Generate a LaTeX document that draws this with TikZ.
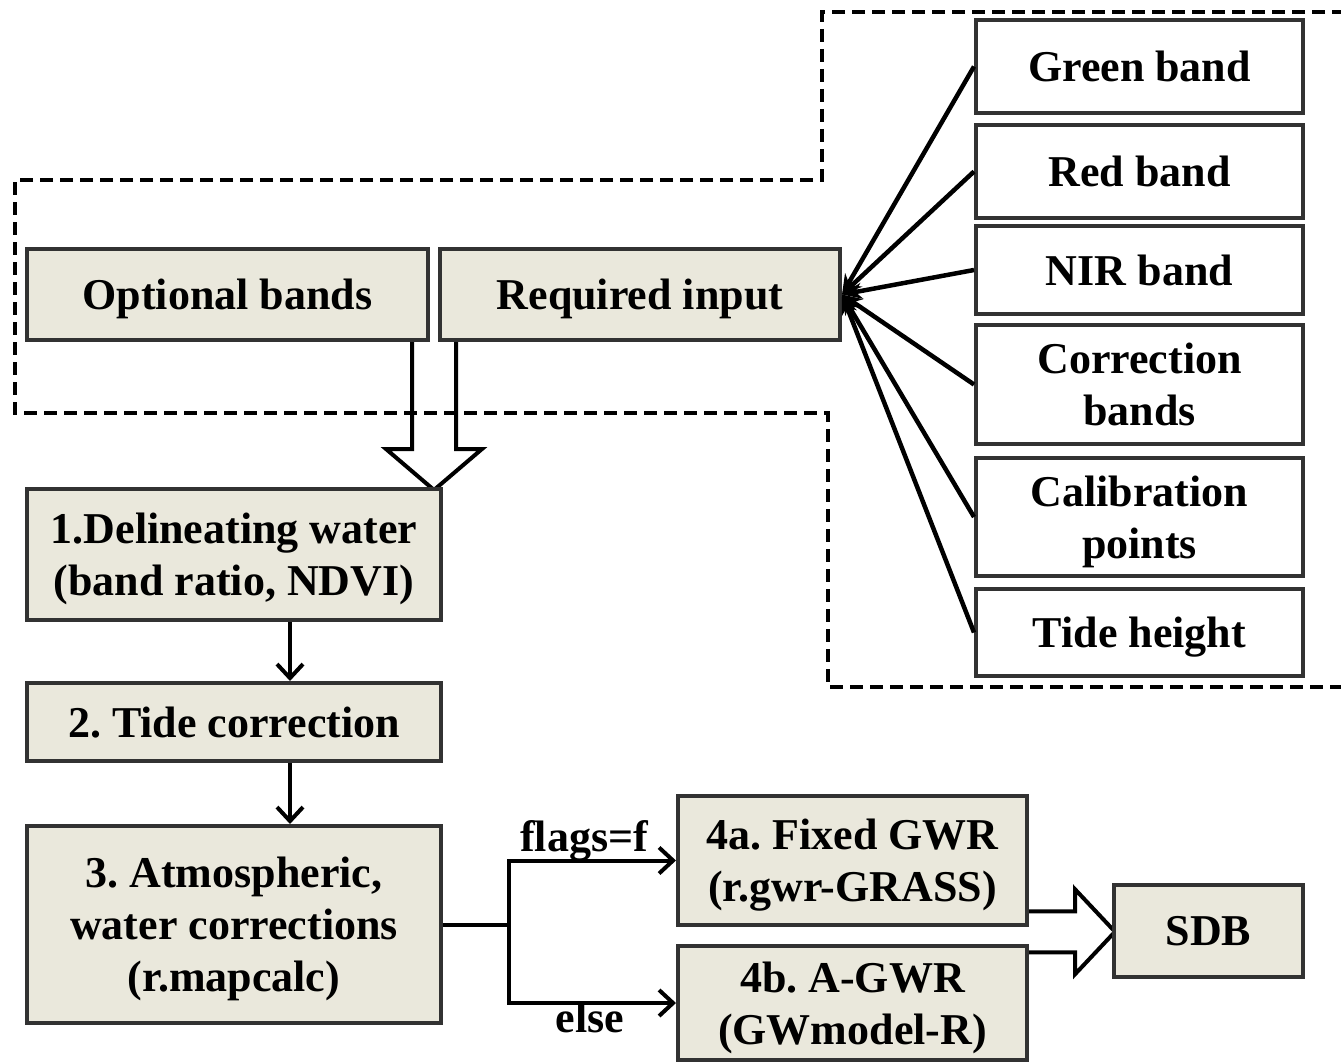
\documentclass[tikz,border=0pt]{standalone}
\usepackage{fontspec}
\setmainfont{Liberation Serif}
\usetikzlibrary{arrows.meta,calc,backgrounds}
\definecolor{boxfill}{RGB}{234,232,220}
\definecolor{boxline}{RGB}{50,50,50}
\newcommand{\boxfont}{\fontsize{44}{52}\selectfont\bfseries\frenchspacing}
\tikzstyle{greybox} = [rectangle, draw=boxline, line width=4pt, fill=boxfill,
text centered, align=center, font=\boxfont, inner sep=2pt, text depth=0pt]
\tikzstyle{whitebox} = [rectangle, draw=boxline, line width=4pt, fill=white,
text centered, align=center, font=\boxfont, inner sep=2pt, text depth=0pt, minimum width=327pt]
\tikzstyle{arrow} = [line width=4pt,-{Straight Barb[length=14pt,width=26pt]}]
\tikzstyle{feed} = [line width=4.5pt,-{Stealth[length=20pt,width=16pt]}]
\tikzstyle{hollow} = [line width=4pt, draw=black, fill=white, line join=miter]
\tikzstyle{dashline} = [line width=4pt, dash pattern=on 13pt off 7pt]

\begin{document}
\begin{tikzpicture}[x=1pt, y=-1pt]
\useasboundingbox (0,0) rectangle (1341,1062);

\node (1)[greybox, minimum width=401pt, minimum height=91pt] at (227.5,294.5) {Optional bands};
\node (2)[greybox, minimum width=400pt, minimum height=91pt] at (640,294.5) {Required input};
\node (3)[greybox, minimum width=414pt, minimum height=131pt] at (234,554.5) {1.Delineating water\\(band ratio, NDVI)};
\node (4)[greybox, minimum width=414pt, minimum height=78pt] at (234,722) {2. Tide correction};
\node (5)[greybox, minimum width=414pt, minimum height=197pt] at (234,924.5) {3. Atmospheric,\\water corrections\\(r.mapcalc)};
\node (6)[greybox, minimum width=349pt, minimum height=129pt] at (852.5,860.5) {4a. Fixed GWR\\(r.gwr-GRASS)};
\node (7)[greybox, minimum width=349pt, minimum height=114pt] at (852.5,1003) {4b. A-GWR\\(GWmodel-R)};
\node (8)[greybox, minimum width=189pt, minimum height=92pt] at (1208.5,930.5) {SDB};

\node (9)[whitebox, minimum height=93pt] at (1139.5,66.5) {Green band};
\node (10)[whitebox, minimum height=93pt] at (1139.5,171.5) {Red band};
\node (11)[whitebox, minimum height=88pt] at (1139.5,270) {NIR band};
\node (12)[whitebox, minimum height=119pt] at (1139.5,384.5) {Correction\\bands};
\node (13)[whitebox, minimum height=118pt] at (1139.5,517) {Calibration\\points};
\node (14)[whitebox, minimum height=87pt] at (1139.5,632.5) {Tide height};

% inputs
\foreach \n in {9,...,14}
  \draw [feed](\n.west) -- (2.east);

% dashed frame
\draw [dashline](1345,12) -- (822,12) -- (822,180) -- (15,180) -- (15,413)
  -- (828,413) -- (828,687) -- (1345,687);

% hollow arrows
\coordinate (c1) at ($(1.south east)!0.5!(2.south west)$);
\coordinate (c2) at ($(6.east)!0.5!(7.east)$);
\begin{pgfonlayer}{background}
\draw [hollow](c1) ++(-22,0) -- ++(0,107) -- ++(-26,0) -- ++(48,41) -- ++(48,-41)
  -- ++(-26,0) -- ++(0,-107);
\draw [hollow](c2) ++(0,-20.5) -- ++(46,0) -- ++(0,-22) -- ++(40,42.5) -- ++(-40,42.5)
  -- ++(0,-22) -- ++(-46,0);
\end{pgfonlayer}

\draw [arrow]([xshift=56pt]3.south) -- ([xshift=56pt]4.north);
\draw [arrow]([xshift=56pt]4.south) -- ([xshift=56pt]5.north);

\coordinate (s) at ([xshift=66pt]5.east);
\draw [line width=4pt](5.east) -- (s);
\draw [arrow](s) |- (6.west);
\draw [arrow](s) |- (7.west);
\node (15)[font=\boxfont, anchor=base] at (584,851) {flags=f};
\node (16)[font=\boxfont, anchor=base] at (590,1032) {else};
\end{tikzpicture}
\end{document}
